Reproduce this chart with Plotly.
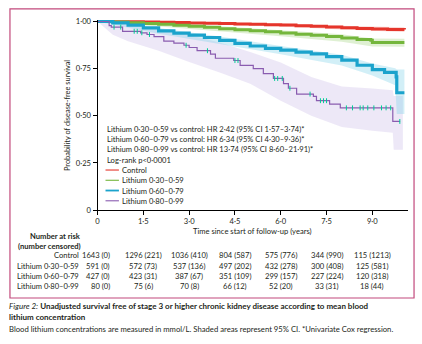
import numpy as np
import plotly.graph_objects as go

W, H = 422, 344
FONT = "Lato"

# ---------------- data ----------------
control_t = [0, 0.5, 1, 1.5, 2, 2.5, 3, 3.5, 4, 4.5, 5, 5.5, 6, 6.5, 7, 7.5, 8, 8.5, 9, 9.5, 10.05]
control_s = [1.0, 0.999, 0.998, 0.997, 0.996, 0.994, 0.992, 0.990, 0.989, 0.987, 0.985, 0.983,
             0.981, 0.978, 0.975, 0.971, 0.967, 0.963, 0.960, 0.958, 0.957]

low_t = [0, 0.5, 1, 1.5, 2, 2.5, 3, 3.5, 4, 4.5, 5, 5.5, 6, 6.5, 7, 7.5, 8, 8.5, 8.95, 9.0, 9.5, 10.05]
low_s = [1.0, 0.997, 0.993, 0.989, 0.985, 0.980, 0.975, 0.969, 0.962, 0.956, 0.951, 0.946,
         0.939, 0.932, 0.927, 0.921, 0.913, 0.905, 0.900, 0.889, 0.888, 0.888]

mid_t = [0, 0.5, 1, 1.5, 2, 2.5, 3, 3.5, 4, 4.5, 5, 5.5, 6, 6.5, 7, 7.5, 8, 8.5, 9, 9.4, 9.78, 9.8, 10.05]
mid_s = [1.0, 0.993, 0.981, 0.966, 0.950, 0.938, 0.928, 0.915, 0.900, 0.884, 0.870, 0.857,
         0.848, 0.838, 0.828, 0.814, 0.795, 0.768, 0.745, 0.730, 0.706, 0.622, 0.622]

high_t = [0, 0.38, 0.45, 0.82, 1.41, 1.62, 1.85, 2.17, 2.5, 2.83, 3.0, 3.26, 3.7, 3.86, 4.46, 4.67,
          5.1, 5.43, 5.76, 6.09, 6.25, 6.52, 7.07, 7.17, 7.6, 7.95, 9.67, 9.91]
high_s = [1.0, 0.978, 0.970, 0.948, 0.940, 0.931, 0.920, 0.896, 0.885, 0.874, 0.862, 0.845, 0.827,
          0.805, 0.793, 0.767, 0.750, 0.724, 0.698, 0.670, 0.646, 0.615, 0.603, 0.580, 0.562, 0.542,
          0.470, 0.470]
high_censor_t = [0.54, 0.76, 1.2, 1.3, 1.45, 1.7, 2.9, 3.6, 4.5, 4.6, 5.8, 5.9, 6.05, 6.3, 6.96,
                 7.3, 7.4, 7.5, 8.15, 8.35, 8.6, 8.7, 8.85, 9.05, 9.3, 9.45, 9.6, 9.9]

# 95% CI bands
control_ci_t = [0, 2, 4, 6, 8, 10.05]
control_lo = [1.0, 0.992, 0.983, 0.973, 0.957, 0.944]
control_hi = [1.0, 0.999, 0.995, 0.989, 0.977, 0.969]

low_ci_t = [0, 2, 4, 6, 8, 9, 10.05]
low_lo = [1.0, 0.975, 0.948, 0.922, 0.893, 0.868, 0.866]
low_hi = [1.0, 0.994, 0.975, 0.955, 0.932, 0.910, 0.908]

mid_ci_t = [0, 2, 4, 6, 8, 9, 9.75, 9.8, 10.05]
mid_lo = [1.0, 0.935, 0.880, 0.826, 0.766, 0.713, 0.662, 0.51, 0.51]
mid_hi = [1.0, 0.965, 0.921, 0.870, 0.824, 0.777, 0.752, 0.745, 0.745]

high_ci_t = [0, 0.5, 1, 2, 3, 4, 5, 6, 7, 8, 9, 9.67, 9.7, 10.0]
high_lo = [1.0, 0.93, 0.895, 0.845, 0.785, 0.73, 0.67, 0.58, 0.50, 0.44, 0.42, 0.41, 0.32, 0.32]
high_hi = [1.0, 0.998, 0.988, 0.962, 0.928, 0.888, 0.838, 0.782, 0.705, 0.655, 0.645, 0.635, 0.605, 0.605]

groups = ["Control", "Lithium 0·30–0·59", "Lithium 0·60–0·79", "Lithium 0·80–0·99"]
hr_lines = [
    "Lithium 0·30–0·59 vs control: HR 2·42 (95% CI 1·57–3·74)*",
    "Lithium 0·60–0·79 vs control: HR 6·34 (95% CI 4·30–9·36)*",
    "Lithium 0·80–0·99 vs control: HR 13·74 (95% CI 8·60–21·91)*",
    "Log-rank p<0·0001",
]
x_ticks = [0, 1.5, 3.0, 4.5, 6.0, 7.5, 9.0]
x_ticklabels = ["0", "1·5", "3·0", "4·5", "6·0", "7·5", "9·0"]
y_ticks = [0, 0.25, 0.5, 0.75, 1.0]
y_ticklabels = ["0", "0·25", "0·50", "0·75", "1·00"]

at_risk = {
    "Control": ["1643 (0)", "1296 (221)", "1036 (410)", "804 (587)", "575 (776)", "344 (990)", "115 (1213)"],
    "Lithium 0·30–0·59": ["591 (0)", "572 (73)", "537 (136)", "497 (202)", "432 (278)", "300 (408)", "125 (581)"],
    "Lithium 0·60–0·79": ["427 (0)", "423 (31)", "387 (67)", "351 (109)", "299 (157)", "227 (224)", "120 (318)"],
    "Lithium 0·80–0·99": ["80 (0)", "75 (6)", "70 (8)", "66 (12)", "52 (20)", "33 (31)", "18 (44)"],
}

# ---------------- styles ----------------
line_cols = ["#e5352b", "#74b63c", "#1ba3cc", "#8a5cb0"]
band_cols = ["rgba(240,120,105,0.28)", "rgba(150,205,110,0.30)", "rgba(130,210,232,0.36)", "rgba(195,178,228,0.30)"]
TXT = "#231f20"

fig = go.Figure()

bands = [(control_ci_t, control_lo, control_hi), (low_ci_t, low_lo, low_hi),
         (mid_ci_t, mid_lo, mid_hi), (high_ci_t, high_lo, high_hi)]
for i in [3, 2, 1, 0]:
    t, lo, hi = bands[i]
    fig.add_trace(go.Scatter(x=t, y=lo, mode="lines", line=dict(width=0), hoverinfo="skip", showlegend=False))
    fig.add_trace(go.Scatter(x=t, y=hi, mode="lines", line=dict(width=0), fill="tonexty",
                             fillcolor=band_cols[i], hoverinfo="skip", showlegend=False))

curves = [(control_t, control_s), (low_t, low_s), (mid_t, mid_s), (high_t, high_s)]
widths = [3.0, 3.0, 3.2, 1.2]
for i, (t, s) in enumerate(curves):
    fig.add_trace(go.Scatter(x=t, y=s, mode="lines", line=dict(color=line_cols[i], width=widths[i], shape="hv"),
                             name=groups[i], showlegend=False))

# censor marks on the highest-lithium curve (read y from its own step function)
ht = np.array(high_t)
hs = np.array(high_s)
idx = np.searchsorted(ht, np.array(high_censor_t), side="right") - 1
fig.add_trace(go.Scatter(x=high_censor_t, y=hs[idx], mode="markers",
                         marker=dict(symbol="line-ns-open", size=3.5, line=dict(color=line_cols[3], width=1)),
                         showlegend=False, hoverinfo="skip"))

def px(x):
    return x / W

def py(y):
    return 1 - y / H

ann = []
# HR text
for k, s in enumerate(hr_lines):
    ann.append(dict(x=px(103), y=py(128.5 + 10.6 * k), xref="paper", yref="paper", text=s, showarrow=False,
                    xanchor="left", yanchor="middle", font=dict(family=FONT, size=7.6, color=TXT)))
# legend
shapes = []
for k, g in enumerate(groups):
    yy = 171 + 10.5 * k
    shapes.append(dict(type="line", xref="paper", yref="paper", x0=px(104), x1=px(117.5), y0=py(yy), y1=py(yy),
                       line=dict(color=line_cols[k], width=1.1 if k != 2 else 1.8)))
    ann.append(dict(x=px(119), y=py(yy), xref="paper", yref="paper", text=g, showarrow=False,
                    xanchor="left", yanchor="middle", font=dict(family=FONT, size=7.6, color=TXT)))

# axis titles
ann.append(dict(x=px(66), y=py(115), xref="paper", yref="paper", text="Probability of disease-free survival",
                textangle=-90, showarrow=False, xanchor="center", yanchor="middle",
                font=dict(family=FONT, size=7.4, color=TXT)))
ann.append(dict(x=px(252), y=py(233.5), xref="paper", yref="paper", text="Time since start of follow-up (years)",
                showarrow=False, xanchor="center", yanchor="middle", font=dict(family=FONT, size=7.6, color=TXT)))

# number at risk table
ann.append(dict(x=px(81), y=py(239), xref="paper", yref="paper", text="<b>Number at risk</b>", showarrow=False,
                xanchor="right", yanchor="middle", font=dict(family=FONT, size=7.6, color=TXT)))
ann.append(dict(x=px(81), y=py(249), xref="paper", yref="paper", text="<b>(number censored)</b>", showarrow=False,
                xanchor="right", yanchor="middle", font=dict(family=FONT, size=7.6, color=TXT)))
for r, g in enumerate(groups):
    yy = 258.5 + 10.5 * r
    ann.append(dict(x=px(79), y=py(yy), xref="paper", yref="paper", text=g, showarrow=False,
                    xanchor="right", yanchor="middle", font=dict(family=FONT, size=7.6, color=TXT)))
    for c, val in enumerate(at_risk[g]):
        if c == 0:
            ann.append(dict(x=x_ticks[c], y=py(yy), xref="x", yref="paper", text=val, showarrow=False,
                            xanchor="right", xshift=14, yanchor="middle",
                            font=dict(family=FONT, size=7.6, color=TXT)))
        else:
            ann.append(dict(x=x_ticks[c], y=py(yy), xref="x", yref="paper", text=val, showarrow=False,
                            xanchor="center", yanchor="middle", font=dict(family=FONT, size=7.6, color=TXT)))

# caption
ann.append(dict(x=px(5), y=py(310), xref="paper", yref="paper",
                text="<i>Figure 2:</i> <b>Unadjusted survival free of stage 3 or higher chronic kidney disease according to mean blood</b>",
                showarrow=False, xanchor="left", yanchor="middle", font=dict(family=FONT, size=8, color=TXT)))
ann.append(dict(x=px(5), y=py(321.5), xref="paper", yref="paper", text="<b>lithium concentration</b>",
                showarrow=False, xanchor="left", yanchor="middle", font=dict(family=FONT, size=8, color=TXT)))
ann.append(dict(x=px(5), y=py(333.5), xref="paper", yref="paper",
                text="Blood lithium concentrations are measured in mmol/L. Shaded areas represent 95% CI. *Univariate Cox regression.",
                showarrow=False, xanchor="left", yanchor="middle", font=dict(family=FONT, size=7.7, color=TXT)))

# frame around the chart panel
shapes.append(dict(type="rect", xref="paper", yref="paper", x0=px(8), x1=px(414), y0=py(302), y1=py(6),
                   line=dict(color="#c2497c", width=1.2)))

fig.update_layout(
    width=W, height=H,
    margin=dict(l=0, r=0, t=0, b=0),
    paper_bgcolor="white", plot_bgcolor="white",
    showlegend=False,
    annotations=ann, shapes=shapes,
    xaxis=dict(domain=[96 / W, 408 / W], range=[0, 10.17], tickvals=x_ticks, ticktext=x_ticklabels,
               ticks="outside", ticklen=4, tickcolor="black", showline=True, linecolor="black", linewidth=1,
               showgrid=False, zeroline=False, tickfont=dict(family=FONT, size=7.6, color=TXT)),
    yaxis=dict(domain=[1 - 212 / H, 1 - 17 / H], range=[0, 1.01], tickvals=y_ticks, ticktext=y_ticklabels,
               ticks="outside", ticklen=4, tickcolor="black", showline=True, linecolor="black", linewidth=1,
               showgrid=False, zeroline=False, tickfont=dict(family=FONT, size=7.6, color=TXT)),
)

fig.write_html("out.html")
